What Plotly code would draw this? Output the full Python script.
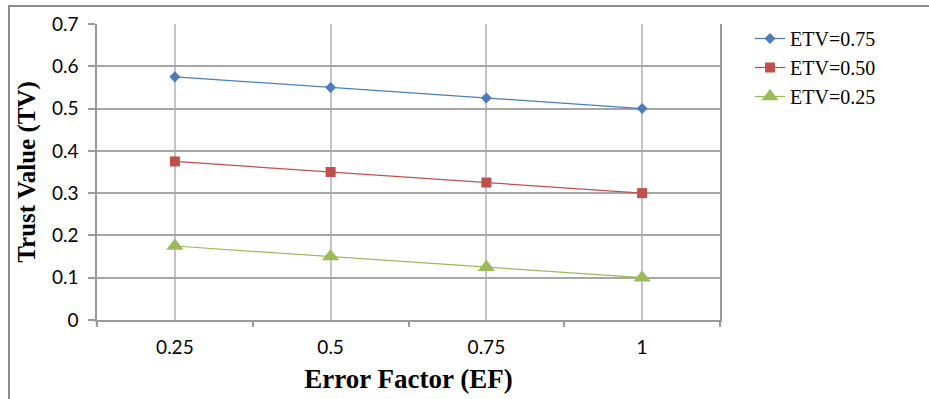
import plotly.graph_objects as go

categories = ["0.25", "0.5", "0.75", "1"]
etv_075 = [0.575, 0.55, 0.525, 0.5]
etv_050 = [0.375, 0.35, 0.325, 0.3]
etv_025 = [0.175, 0.15, 0.125, 0.1]
series_names = ["ETV=0.75", "ETV=0.50", "ETV=0.25"]
y_ticks = [0, 0.1, 0.2, 0.3, 0.4, 0.5, 0.6, 0.7]

W, H = 929, 399
ML, MR, MT, MB = 97, W - 720, 24, H - 320
pw, ph = W - ML - MR, H - MT - MB

xs = list(range(len(categories)))
bounds = [i - 0.5 for i in range(len(categories) + 1)]

fig = go.Figure()
styles = [
    (etv_075, "#4A7EBB", "diamond", 8.5),
    (etv_050, "#C0504D", "square", 10),
    (etv_025, "#9BBB59", "triangle-up", 15),
]
for name, (vals, col, sym, sz) in zip(series_names, styles):
    fig.add_trace(go.Scatter(
        x=xs, y=vals, name=name, mode="lines+markers",
        line=dict(color=col, width=1.25),
        marker=dict(symbol=sym, size=sz, color=col, line=dict(width=0)),
    ))
# helper axis for boundary tick marks
fig.add_trace(go.Scatter(x=[], y=[], xaxis="x2", showlegend=False, hoverinfo="skip"))

tickfont = dict(family="Lato, Carlito, sans-serif", size=19, color="#000")
serif = "Liberation Serif, Times New Roman, serif"

fig.update_layout(
    width=W, height=H,
    margin=dict(l=ML, r=MR, t=MT, b=MB, pad=0),
    paper_bgcolor="white", plot_bgcolor="white",
    xaxis=dict(
        range=[-0.5, len(categories) - 0.5], automargin=False,
        tickvals=xs, ticktext=categories, ticks="", ticklabelstandoff=9,
        showgrid=True, gridcolor="#C4C4C4", gridwidth=1.5,
        showline=True, linecolor="#9A9A9A", linewidth=1.5,
        zeroline=False, tickfont=tickfont,
        title=dict(text="<b>Error Factor (EF)</b>",
                   font=dict(family=serif, size=27, color="#000"), standoff=13),
    ),
    xaxis2=dict(
        overlaying="x", anchor="y", side="bottom", automargin=False,
        range=[-0.5, len(categories) - 0.5],
        tickvals=bounds, ticks="outside", ticklen=6, tickwidth=1.5, tickcolor="#9A9A9A",
        showticklabels=False, showgrid=False, showline=False, zeroline=False,
    ),
    yaxis=dict(
        range=[0, 0.7], tickvals=y_ticks, automargin=False,
        ticktext=[("%g" % v) for v in y_ticks],
        ticks="outside", ticklen=7, tickwidth=1.5, tickcolor="#9A9A9A",
        ticklabelstandoff=6,
        showgrid=True, gridcolor="#A6A6A6", gridwidth=1.5,
        showline=True, linecolor="#9A9A9A", linewidth=1.5, mirror=True,
        zeroline=False, tickfont=tickfont,
        title=dict(text="<b>Trust Value (TV)</b>",
                   font=dict(family=serif, size=25, color="#000"), standoff=9),
    ),
    legend=dict(
        x=(750 - ML) / pw, y=(MT + ph - 19) / ph, xanchor="left", yanchor="top",
        font=dict(family=serif, size=20, color="#000"),
        bgcolor="rgba(0,0,0,0)", tracegroupgap=0,
    ),
    showlegend=True,
)
# outer chart frame (only top & left visible in the crop)
fig.add_shape(type="rect", xref="paper", yref="paper",
              x0=(9 - ML) / pw, x1=(W + 20 - ML) / pw,
              y0=(MT + ph - (H + 20)) / ph, y1=(MT + ph - 6) / ph,
              line=dict(color="#8C8C8C", width=2), fillcolor="rgba(0,0,0,0)", layer="below")

fig.write_html("out.html")
